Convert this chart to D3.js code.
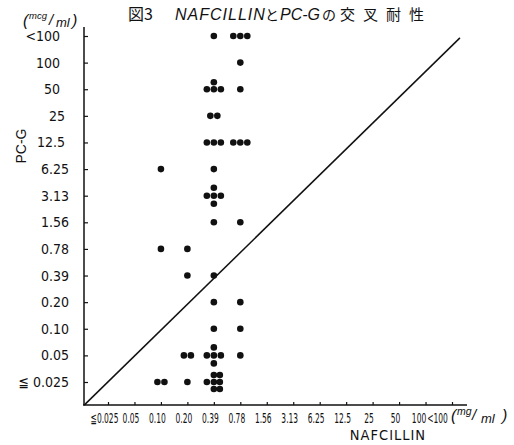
<!DOCTYPE html>
<html><head><meta charset="utf-8">
<script src="https://cdn.jsdelivr.net/npm/d3@7/dist/d3.min.js"></script>
<style>
body{margin:0;background:#fff;}
svg{display:block;}
.narrow{font-family:"Liberation Sans Narrow","DejaVu Sans Condensed","Liberation Sans",sans-serif;}
</style></head>
<body><svg id="c" width="514" height="445"></svg>
<script>
// MIC categories (mcg/ml)
const xCats = ["≦0.025","0.05","0.10","0.20","0.39","0.78","1.56","3.13","6.25","12.5","25","50","100","<100"];
const yCats = ["≦ 0.025","0.05","0.10","0.20","0.39","0.78","1.56","3.13","6.25","12.5","25","50","100","<100"];
// strains: NAFCILLIN MIC, PC-G MIC, number of strains
const nafMIC = ["0.39","0.78","0.78","0.39","0.78","0.39","0.39","0.78","0.10","0.39","0.39","0.39","0.78","0.10","0.20","0.20","0.39","0.39","0.78","0.39","0.78","0.20","0.39","0.78","0.10","0.20","0.39"];
const pcgMIC = ["<100","<100","100","50","50","25","12.5","12.5","6.25","6.25","3.13","1.56","1.56","0.78","0.78","0.39","0.39","0.20","0.20","0.10","0.10","0.05","0.05","0.05","≦ 0.025","≦ 0.025","≦ 0.025"];
const strainCount = [1,3,1,4,1,2,3,3,1,1,5,1,1,1,1,1,1,1,1,1,1,2,5,1,2,1,7];

const svg = d3.select("#c");
const ink = "#111";

const x = d3.scalePoint().domain(xCats.map((d,i)=>i)).range([108,452]);
const y = d3.scalePoint().domain(yCats.map((d,i)=>i)).range([382,36]);
const xi = d3.scaleLinear().domain([0,13]).range([108,452]);
const yi = d3.scaleLinear().domain([0,13]).range([382,36]);
const xIdx = v => xCats.indexOf(v);
const yIdx = v => yCats.indexOf(v);

// axes lines
svg.append("line").attr("x1",84).attr("x2",84).attr("y1",27).attr("y2",405).attr("stroke",ink).attr("stroke-width",1.5);
svg.append("line").attr("x1",83).attr("x2",467).attr("y1",405).attr("y2",405).attr("stroke",ink).attr("stroke-width",1.5);

// y axis
const gy = svg.append("g").attr("transform","translate(84,0)")
  .call(d3.axisLeft(y).tickSize(-4).tickPadding(15).tickFormat(i=>yCats[i]));
gy.select(".domain").remove();
gy.selectAll("line").attr("stroke",ink).attr("stroke-width",1.2);
gy.selectAll("text").attr("class","narrow").attr("font-size",14).attr("fill",ink).attr("font-family",null)
  .attr("x",(i)=> i>=11 ? -24 : (i>=9 ? -19 : -15));

// x axis
const gx = svg.append("g").attr("transform","translate(0,405)")
  .call(d3.axisBottom(x).tickSize(-3).tickPadding(8).tickFormat(i=>xCats[i]));
gx.select(".domain").remove();
gx.selectAll("line").attr("stroke",ink).attr("stroke-width",1.2);
gx.selectAll("text").attr("class","narrow").attr("font-size",13.5).attr("fill",ink).attr("font-family",null)
  .attr("transform","scale(0.62,1)").attr("x",i=>(i===13 ? -15 : (i===12 ? -7 : -4))/0.62);

// diagonal
svg.append("line")
  .attr("x1",xi(-0.9)).attr("y1",yi(-0.87))
  .attr("x2",xi(13.3)).attr("y2",yi(12.93))
  .attr("stroke",ink).attr("stroke-width",1.5);

// dot arrangements per count
const layouts = {
  1:[[0,0]],
  2:[[-3.5,0],[3.5,0]],
  3:[[-7,0],[0,0],[7,0]],
  4:[[-7,0],[0,0],[7,0],[0,-7]],
  5:[[0,-8],[-7,0],[0,0],[7,0],[0,8]],
  7:[[-7,0],[0,-7],[6,-7],[0,0],[6,0],[0,7],[6,7]]
};
const pts = [];
nafMIC.forEach((n,k)=>{
  const cx = x(xIdx(n)), cy = y(yIdx(pcgMIC[k]));
  layouts[strainCount[k]].forEach(o=>pts.push([cx+o[0], cy+o[1]]));
});
svg.append("g").selectAll("circle").data(pts).join("circle")
  .attr("cx",d=>d[0]).attr("cy",d=>d[1]).attr("r",3.3).attr("fill",ink);

// title
const t = svg.append("text").attr("y",20).attr("font-size",16).attr("fill",ink)
  .attr("font-family","'Liberation Sans','Noto Sans CJK JP',sans-serif");
t.append("tspan").attr("x",128).attr("font-family","'Noto Sans CJK JP'").text("図3");
t.append("tspan").attr("x",175).attr("font-style","italic").attr("letter-spacing",1).text("NAFCILLIN");
t.append("tspan").attr("x",265).attr("font-family","'Noto Sans CJK JP'").attr("font-size",14).text("と");
t.append("tspan").attr("x",280).attr("font-style","italic").text("PC-G");
t.append("tspan").attr("x",322).attr("font-family","'Noto Sans CJK JP'").attr("font-size",14).text("の");
t.append("tspan").attr("x",340).attr("font-family","'Noto Sans CJK JP'").attr("font-size",15).attr("letter-spacing",8).text("交叉耐性");

// y unit
const u = svg.append("text").attr("fill",ink).attr("font-style","italic")
  .attr("font-family","'Liberation Sans',sans-serif");
u.append("tspan").attr("x",23).attr("y",26).attr("font-size",16).text("(");
u.append("tspan").attr("x",29).attr("y",19).attr("font-size",9.5).text("mcg");
u.append("tspan").attr("x",49).attr("y",25).attr("font-size",15).text("/");
u.append("tspan").attr("x",56).attr("y",27).attr("font-size",13).text("ml");
u.append("tspan").attr("x",72).attr("y",26).attr("font-size",16).text(")");

// x unit
const u2 = svg.append("text").attr("fill",ink).attr("font-style","italic")
  .attr("font-family","'Liberation Sans',sans-serif");
u2.append("tspan").attr("x",451).attr("y",421).attr("font-size",16).text("(");
u2.append("tspan").attr("x",457).attr("y",415).attr("font-size",10.5).text("mg");
u2.append("tspan").attr("x",472).attr("y",420).attr("font-size",15).text("/");
u2.append("tspan").attr("x",481).attr("y",423).attr("font-size",13).text("ml");
u2.append("tspan").attr("x",502).attr("y",421).attr("font-size",16).text(")");

// axis titles
svg.append("text").attr("class","narrow").attr("font-size",14.5).attr("fill",ink)
  .attr("letter-spacing",1).attr("text-anchor","middle")
  .attr("x",388).attr("y",440).text("NAFCILLIN");
svg.append("text").attr("font-family","'Liberation Sans',sans-serif").attr("font-size",14).attr("fill",ink)
  .attr("text-anchor","middle").attr("transform","translate(26,146) rotate(-90)").text("PC-G");
</script></body></html>
